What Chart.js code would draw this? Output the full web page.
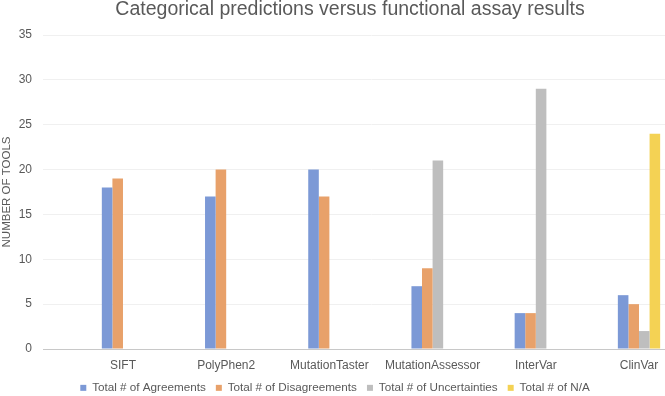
<!DOCTYPE html>
<html>
<head>
<meta charset="utf-8">
<script src="https://cdn.jsdelivr.net/npm/chart.js@4.4.0/dist/chart.umd.min.js"></script>
<style>
  html, body { margin: 0; padding: 0; background: #fff; overflow: hidden; }
  .chart-box { width: 700px; height: 396px; }
</style>
</head>
<body>
<div class="chart-box"><canvas id="myChart"></canvas></div>
<script>
const categories = ['SIFT', 'PolyPhen2', 'MutationTaster', 'MutationAssessor', 'InterVar', 'ClinVar'];
const agreements = [18, 17, 20, 7, 4, 6];
const disagreements = [19, 20, 17, 9, 4, 5];
const uncertainties = [0, 0, 0, 21, 29, 2];
const notAvailable = [0, 0, 0, 0, 0, 24];
const seriesNames = ['Total # of Agreements', 'Total # of Disagreements', 'Total # of Uncertainties', 'Total # of N/A'];
const yMax = 35;
const yStep = 5;

const textColor = '#595959';
const colors = ['rgb(124,153,214)', 'rgb(232,161,106)', 'rgb(190,190,190)', 'rgb(244,210,84)'];

// bars sit on a numeric axis so the plot can start left of the first group
const toPoints = arr => arr.map((v, i) => ({ x: i, y: v }));

const shiftLegend = {
    id: 'shiftLegend',
    afterLayout(chart) {
        chart.legend.left -= 15;
        chart.legend.right -= 15;
    }
};

const ctx = document.getElementById('myChart');
const myChart = new Chart(ctx, {
    type: 'bar',
    data: {
        datasets: [agreements, disagreements, uncertainties, notAvailable].map((arr, i) => ({
            label: seriesNames[i],
            data: toPoints(arr),
            backgroundColor: colors[i],
            borderWidth: 0,
            categoryPercentage: 0.41,
            barPercentage: 1
        }))
    },
    options: {
        responsive: true,
        maintainAspectRatio: false,
        animation: false,
        layout: { padding: 0 },
        plugins: {
            title: {
                display: true,
                text: 'Categorical predictions versus functional assay results',
                color: textColor,
                font: { family: 'Liberation Sans', size: 19.5, weight: 'normal', lineHeight: 1 },
                padding: { top: 0, bottom: 15.5 }
            },
            legend: {
                position: 'bottom',
                maxHeight: 24,
                labels: {
                    boxWidth: 6,
                    boxHeight: 6,
                    padding: 10,
                    color: textColor,
                    font: { family: 'Liberation Sans', size: 11.7 }
                }
            },
            tooltip: { enabled: false }
        },
        scales: {
            x: {
                type: 'linear',
                offset: false,
                min: -0.775,
                max: 5.591,
                afterBuildTicks: scale => {
                    scale.ticks = categories.map((c, i) => ({ value: i }));
                },
                afterFit: scale => { scale.height = 23; },
                ticks: {
                    autoSkip: false,
                    maxRotation: 0,
                    padding: 9,
                    color: textColor,
                    font: { family: 'Liberation Sans', size: 12 },
                    callback: v => categories[v]
                },
                grid: { display: false, drawTicks: false },
                border: { display: true, color: '#c8c8c8', width: 1 }
            },
            y: {
                min: 0,
                max: yMax,
                afterFit: scale => { scale.width = 43; },
                ticks: {
                    stepSize: yStep,
                    padding: 11,
                    color: textColor,
                    font: { family: 'Liberation Sans', size: 12 }
                },
                grid: { color: '#f0f0f0', drawTicks: false },
                border: { display: false },
                title: {
                    display: true,
                    text: 'NUMBER OF TOOLS',
                    color: textColor,
                    font: { family: 'Liberation Sans', size: 11.5 },
                    padding: 0
                }
            }
        }
    },
    plugins: [shiftLegend]
});
</script>
</body>
</html>
